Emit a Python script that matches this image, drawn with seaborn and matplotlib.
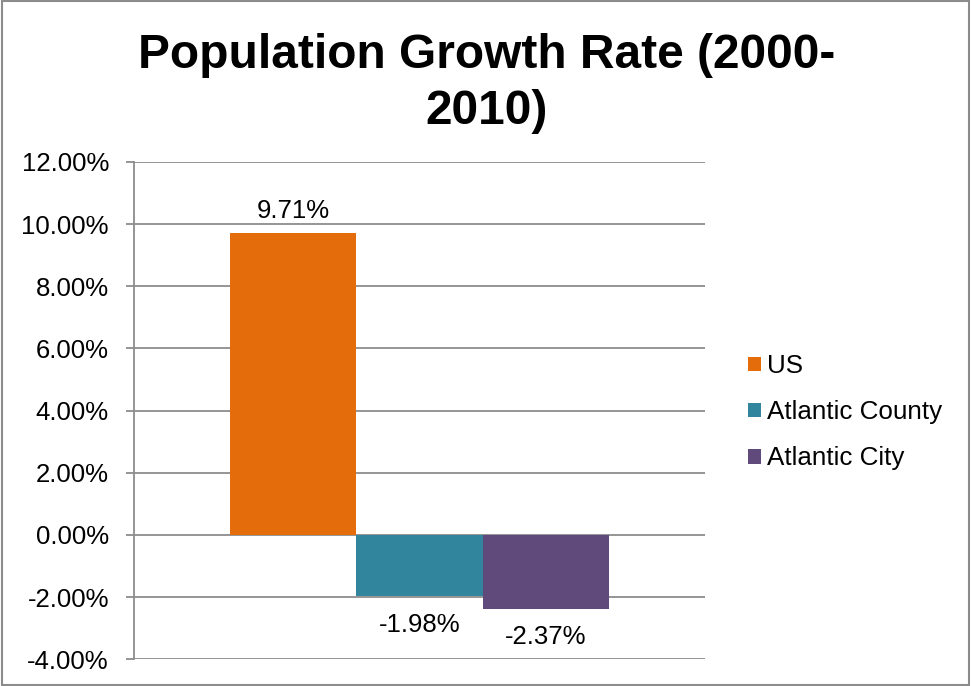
import pandas as pd
import numpy as np
import matplotlib.pyplot as plt
import seaborn as sns
from matplotlib.patches import Rectangle
from matplotlib.ticker import PercentFormatter

# data
areas = ['US', 'Atlantic County', 'Atlantic City']
growth = [9.71, -1.98, -2.37]
bar_labels = ['9.71%', '-1.98%', '-2.37%']
colors = ['#E46C0A', '#31859C', '#604A7B']
y_ticks = [-4, -2, 0, 2, 4, 6, 8, 10, 12]

df = pd.DataFrame({'period': ['2000-2010'] * 3, 'area': areas, 'growth': growth})

sns.set_style('white')
plt.rcParams['font.family'] = ['Liberation Sans', 'DejaVu Sans']
plt.rcParams['axes.unicode_minus'] = False
plt.rcParams['text.color'] = 'black'

fig = plt.figure(figsize=(9.71, 6.86), dpi=100)
ax = fig.add_axes([0.138, 0.039, 0.588, 0.725])

sns.barplot(data=df, x='period', y='growth', hue='area', palette=colors,
            width=0.665, gap=0, saturation=1, errorbar=None, linewidth=0, ax=ax)

# labels sit a bit further off the negative bars, like in excel
for cont, lab, val in zip(ax.containers, bar_labels, growth):
    pad = 7 if val > 0 else 12
    ax.bar_label(cont, labels=[lab], padding=pad, fontsize=18.5, color='black')

ax.set_ylim(-4, 12)
ax.set_yticks(y_ticks)
ax.yaxis.set_major_formatter(PercentFormatter(decimals=2))
ax.grid(axis='y', color='#8c8c8c', linewidth=1.3)
ax.set_axisbelow(True)
ax.set_xticks([])
ax.set_xlabel('')
ax.set_ylabel('')
for s in ['top', 'right', 'bottom']:
    ax.spines[s].set_visible(False)
ax.spines['left'].set_color('#8c8c8c')
ax.spines['left'].set_linewidth(1.3)
ax.tick_params(axis='y', left=True, length=6, width=1.3, color='#8c8c8c',
               labelsize=18.5, labelcolor='black', pad=12)

handles, labels = ax.get_legend_handles_labels()
ax.legend(handles, labels, loc='center left', bbox_to_anchor=(0.746, 0.399),
          bbox_transform=fig.transFigure, frameon=False, fontsize=18.7,
          handlelength=0.5, handleheight=0.5, handletextpad=0.25, labelspacing=0.85,
          labelcolor='black')

fig.text(0.5015, 1 - 68 / 686, 'Population Growth Rate (2000-', ha='center',
         va='baseline', fontsize=34.5, fontweight='bold')
fig.text(0.5015, 1 - 124 / 686, '2010)', ha='center', va='baseline',
         fontsize=34.5, fontweight='bold')

fig.add_artist(Rectangle((0.002, 0.002), 0.996, 0.996, transform=fig.transFigure,
                         fill=False, edgecolor='#8c8c8c', linewidth=1.5))

fig.savefig('out.png', dpi=100)
